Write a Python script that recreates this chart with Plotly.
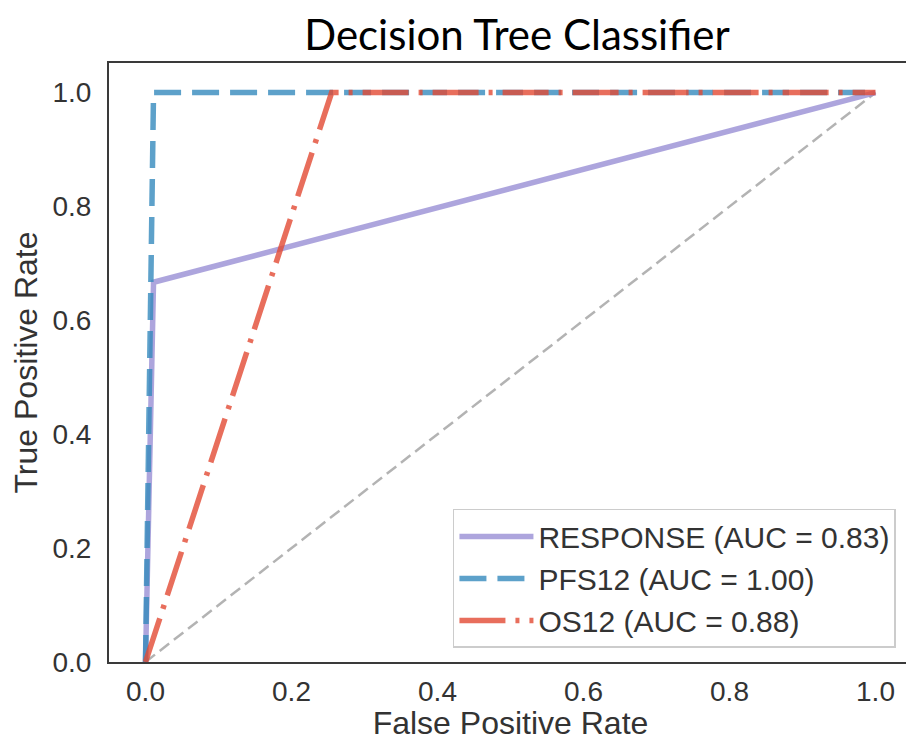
import plotly.graph_objects as go

# ROC curve points
resp_fpr = [0.0, 0.011, 1.0]
resp_tpr = [0.0, 0.667, 1.0]
pfs_fpr = [0.0, 0.011, 1.0]
pfs_tpr = [0.0, 1.0, 1.0]
os_fpr = [0.0, 0.255, 1.0]
os_tpr = [0.0, 1.0, 1.0]
diag = [0.0, 1.0]

names = ["RESPONSE (AUC = 0.83)", "PFS12 (AUC = 1.00)", "OS12 (AUC = 0.88)"]
x_ticks = [0.0, 0.2, 0.4, 0.6, 0.8, 1.0]
y_ticks = [0.0, 0.2, 0.4, 0.6, 0.8, 1.0]

FONT = "Liberation Sans, Arial"

fig = go.Figure()
fig.add_trace(go.Scatter(x=diag, y=diag, mode="lines", showlegend=False,
                         line=dict(color="rgba(128,128,128,0.6)", width=2.5, dash="12px,6px")))
fig.add_trace(go.Scatter(x=resp_fpr, y=resp_tpr, mode="lines", name=names[0],
                         line=dict(color="rgba(152,142,213,0.8)", width=5.5)))
fig.add_trace(go.Scatter(x=pfs_fpr, y=pfs_tpr, mode="lines", name=names[1],
                         line=dict(color="rgba(52,138,189,0.8)", width=5.5, dash="27px,11px")))
fig.add_trace(go.Scatter(x=os_fpr, y=os_tpr, mode="lines", name=names[2],
                         line=dict(color="rgba(226,74,51,0.8)", width=5.5, dash="46px,10px,4px,10px")))

axis_common = dict(showgrid=False, zeroline=False, showline=True, mirror=True,
                   linecolor="#3a3a3a", linewidth=2, ticks="", automargin=False,
                   tickfont=dict(family=FONT, size=28, color="#333333"))
fig.update_xaxes(range=[-0.05, 1.05], tickvals=x_ticks, ticktext=[f"{v:.1f}" for v in x_ticks],
                 ticklabelstandoff=3,
                 title=dict(text="False Positive Rate", standoff=2,
                            font=dict(family=FONT, size=32, color="#333333")),
                 **axis_common)
fig.update_yaxes(range=[0, 1.052], tickvals=y_ticks, ticktext=[f"{v:.1f}" for v in y_ticks],
                 ticklabelstandoff=10,
                 title=dict(text="True Positive Rate", standoff=10,
                            font=dict(family=FONT, size=32, color="#333333")),
                 **axis_common)

# page body adds an 8px offset; compensate so the plot lands where intended
fig.update_layout(
    width=906, height=733,
    margin=dict(l=101, r=2, t=55, b=79),
    paper_bgcolor="white", plot_bgcolor="white",
    title=dict(text="Decision Tree Classifier", x=0.5618, xanchor="center", y=0.963, yanchor="middle",
               font=dict(family="Lato", size=42, color="black")),
    legend=dict(x=0.98, y=0.0234, xanchor="right", yanchor="bottom",
                bordercolor="#cccccc", borderwidth=1.5, bgcolor="white",
                itemwidth=74, tracegroupgap=0,
                font=dict(family=FONT, size=30, color="#333333")),
)

fig.write_html("out.html")
